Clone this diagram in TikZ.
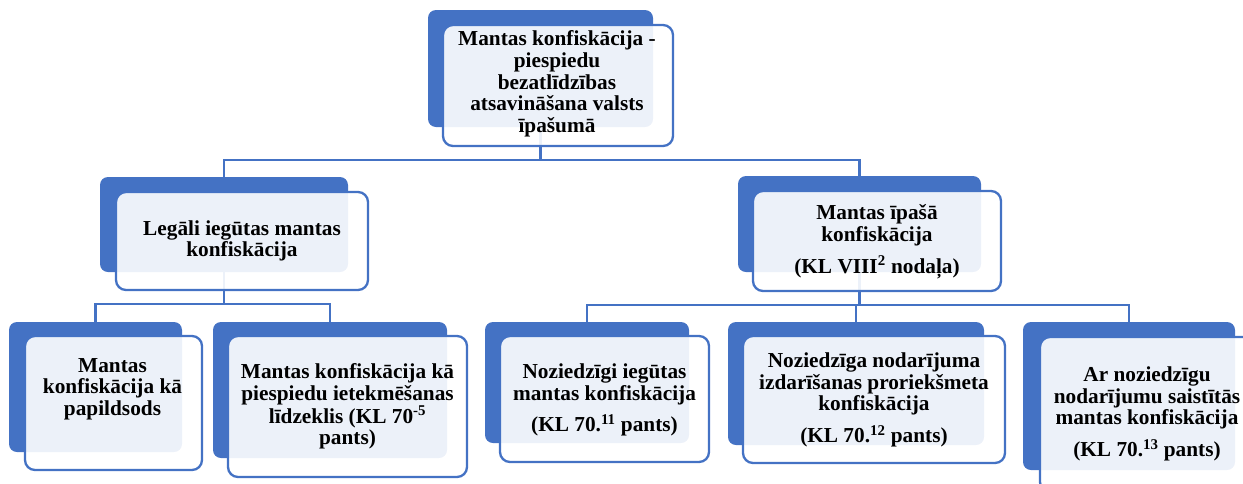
\documentclass[tikz,border=0pt]{standalone}
\usepackage{fontspec}
\setmainfont{Liberation Serif}
\usetikzlibrary{fit}
\definecolor{orgblue}{HTML}{4472C4}
\tikzset{
  backbox/.style={fill=orgblue, rounded corners=8pt, inner sep=0pt},
  frontbox/.style={draw=orgblue, line width=2.3pt, fill=white, fill opacity=0.9, rounded corners=10pt, inner sep=0pt},
  boxtext/.style={align=center, inner sep=0pt, font=\bfseries\fontsize{21.3}{21.7}\selectfont},
  link/.style={draw=orgblue, line width=2.4pt},
}
\begin{document}
\begin{tikzpicture}[x=1pt,y=-1pt]
\useasboundingbox (0,0) rectangle (1243,483);
\clip (0,0) rectangle (1243,483);
% back boxes
\node[backbox, fit={(428,10) (653,127)}] (topb) {};
\node[backbox, fit={(100,177) (348,272)}] (lb) {};
\node[backbox, fit={(738,176) (981,272)}] (rb) {};
\node[backbox, fit={(9,322) (182,452)}] (llb) {};
\node[backbox, fit={(213,322) (447,458)}] (lrb) {};
\node[backbox, fit={(485,322) (689,443)}] (r1b) {};
\node[backbox, fit={(728,322) (984,445)}] (r2b) {};
\node[backbox, fit={(1023,322) (1235,470)}] (r3b) {};
% connectors
\coordinate (topj) at (540.5,160);
\coordinate (lj) at (224,304);
\coordinate (rj) at (859.5,305);
\draw[link] (topb.center) -- (topj);
\draw[link] (lb.north) |- (topj) -| (rb.north);
\draw[link] (lb.center) -- (lj);
\draw[link] (llb.north) |- (lj) -| (lrb.north);
\draw[link] (rb.center) -- (rj);
\draw[link] (r1b.north) |- (rj) -| (r3b.north);
\draw[link] (rj) -| (r2b.north);
% front boxes
\node[frontbox, fit={(443,25) (673,146)}] (top) {};
\node[frontbox, fit={(116,192) (368,290)}] (l) {};
\node[frontbox, fit={(753,191) (1001,291)}] (r) {};
\node[frontbox, fit={(25,336) (202,470)}] (ll) {};
\node[frontbox, fit={(228,336) (467,477)}] (lr) {};
\node[frontbox, fit={(500,336) (709,462)}] (r1) {};
\node[frontbox, fit={(743,336) (1005,463)}] (r2) {};
\node[frontbox, fit={(1040,337) (1255,492)}] (r3) {};
% texts
\node[boxtext] (toptxt) at (557,84) {Mantas konfiskācija -\\piespiedu\\bezatlīdzības\\atsavināšana valsts\\īpašumā};
\node[boxtext] (ltxt) at (242,241) {Legāli iegūtas mantas\\konfiskācija};
\node[boxtext] (rtxt) at (877,241.5) {Mantas īpašā\\konfiskācija\\[9pt](KL VIII\textsuperscript{2} nodaļa)};
\node[boxtext] (lltxt) at (112.5,389) {Mantas\\konfiskācija kā\\papildsods};
\node[boxtext] (lrtxt) at (347.5,406.5) {Mantas konfiskācija kā\\piespiedu ietekmēšanas\\līdzeklis (KL 70\textsuperscript{-5}\\pants)};
\node[boxtext] (r1txt) at (604.5,400) {Noziedzīgi iegūtas\\mantas konfiskācija\\[9pt](KL 70.\textsuperscript{11} pants)};
\node[boxtext] (r2txt) at (874,400) {Noziedzīga nodarījuma\\izdarīšanas proriekšmeta\\konfiskācija\\[9pt](KL 70.\textsuperscript{12} pants)};
\node[boxtext] (r3txt) at (1147,414) {Ar noziedzīgu\\nodarījumu saistītās\\mantas konfiskācija\\[9pt](KL 70.\textsuperscript{13} pants)};
\end{tikzpicture}
\end{document}
